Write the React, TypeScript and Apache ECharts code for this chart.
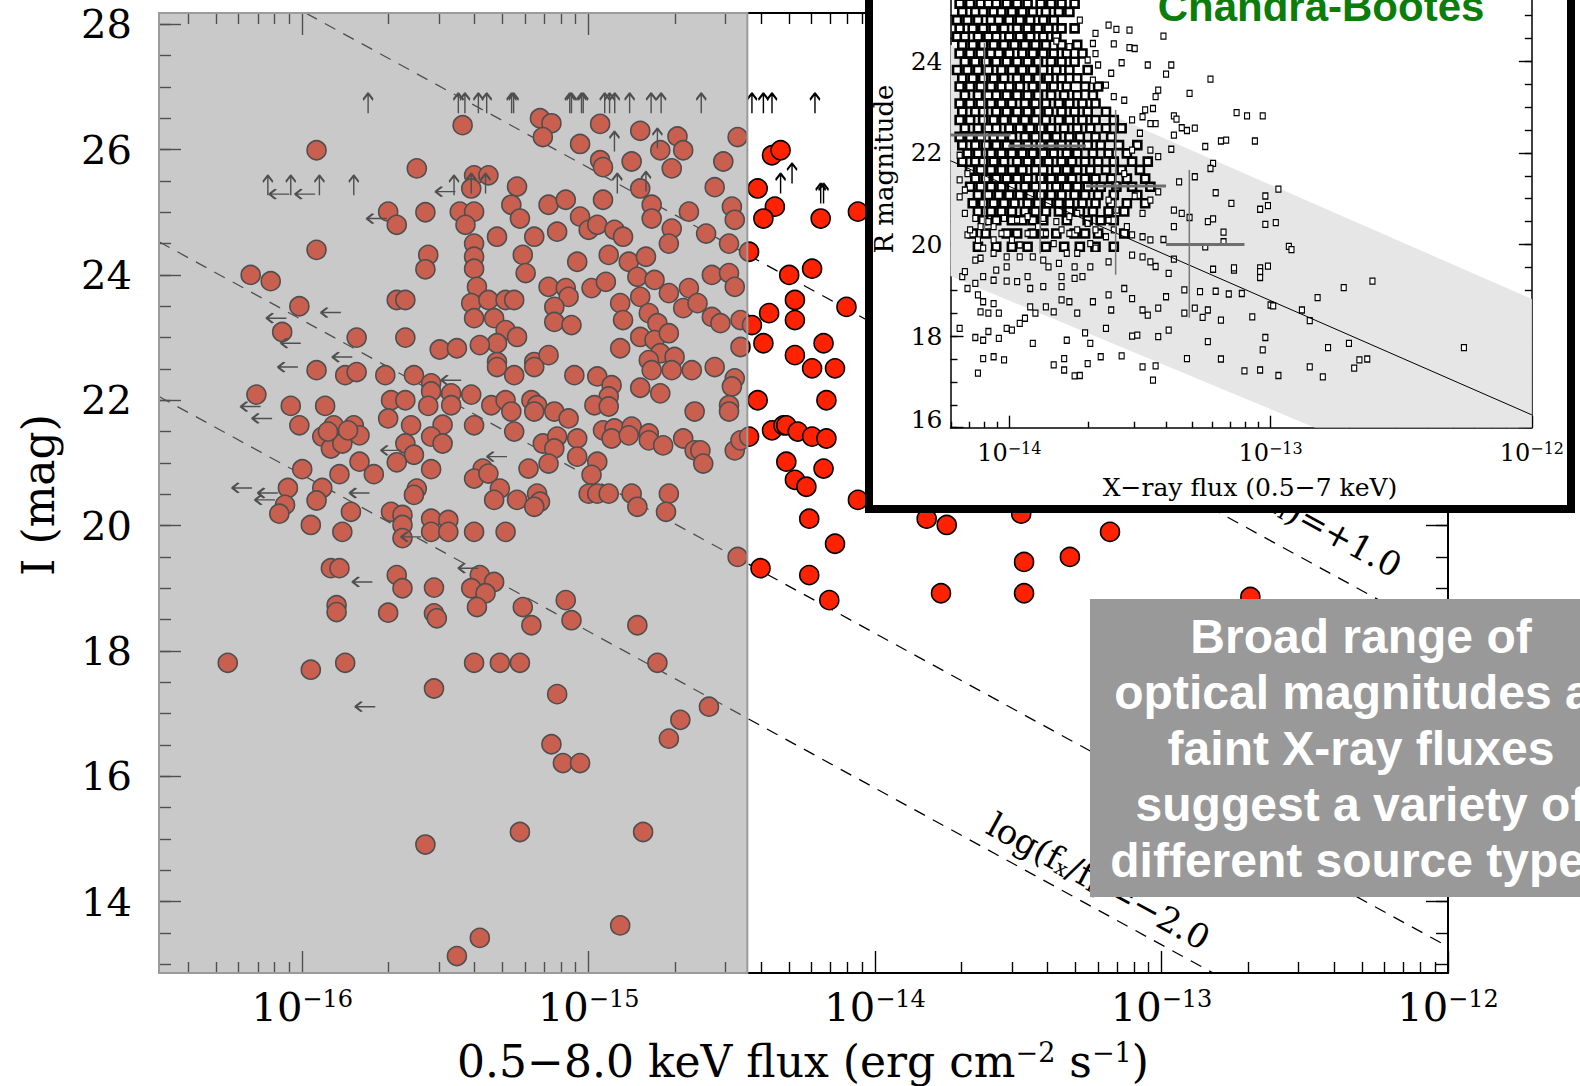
import React, { useEffect, useRef } from "react";
import * as echarts from "echarts";

// ---------------- MAIN PANEL DATA: [log10 flux (erg cm^-2 s^-1), I magnitude] ----------------
const detectedSources: number[][] = [
  [-15.95,25.99],[-15.60,25.70],[-15.70,25.01],[-15.67,24.80],[-15.57,25.00],[-15.95,24.40],[-15.56,24.32],[-15.57,24.09],[-16.18,24.00],[-16.11,23.90],[-16.01,23.50],[-15.67,23.60],[-15.64,23.60],[-16.07,23.09],[-15.81,23.00],[-15.64,23.00],[-15.52,22.81],
  [-15.44,26.39],[-15.17,26.50],[-15.13,26.42],[-15.16,26.20],[-15.03,26.09],[-14.96,26.41],[-14.96,25.83],[-14.95,25.72],[-14.85,25.81],[-14.82,26.30],[-14.75,25.99],[-14.69,26.21],[-14.67,25.99],[-14.71,25.70],[-14.53,25.81],[-14.48,26.20],[-14.56,25.40],[-15.40,25.59],[-15.35,25.59],[-15.41,25.38],[-15.25,25.41],[-15.27,25.12],[-15.24,24.90],[-15.45,25.01],[-15.40,25.01],[-15.43,24.80],[-15.14,25.12],[-15.08,25.20],[-14.95,25.20],[-15.03,24.93],[-15.00,24.72],[-14.97,24.80],[-14.91,24.72],[-14.88,24.61],[-14.82,25.38],[-14.78,25.12],[-14.78,24.90],[-14.71,24.74],[-14.65,25.01],[-14.72,24.50],[-14.59,24.66],[-14.51,24.50],[-14.50,25.09],[-14.49,24.88],[-15.32,24.61],[-15.19,24.61],[-15.11,24.69],[-15.40,24.50],[-15.40,24.29],[-15.40,24.10],[-15.23,24.32],[-15.22,24.03],[-15.04,24.21],[-14.93,24.32],[-14.86,24.21],[-14.80,24.29],[-15.39,23.81],[-15.14,23.81],[-15.08,23.79],[-15.07,23.65],[-14.99,23.79],[-14.94,23.89],[-14.83,23.97],[-14.77,23.92],[-14.72,23.71],[-14.65,23.79],[-14.57,24.00],[-14.51,24.03],[-14.49,23.81],[-15.41,23.55],[-15.35,23.60],[-15.29,23.60],[-15.26,23.60],[-15.40,23.31],[-15.33,23.31],[-15.12,23.49],[-15.12,23.25],[-15.06,23.20],[-14.89,23.55],[-14.88,23.28],[-14.82,23.65],[-14.79,23.39],[-14.76,23.23],[-14.67,23.47],[-14.62,23.55],[-14.57,23.33],[-14.54,23.23],[-14.47,23.28],[-15.29,23.12],[-15.25,23.01],[-15.32,22.91],[-15.38,22.88],[-15.46,22.83],[-15.32,22.61],[-15.19,22.61],[-15.14,22.72],[-14.89,22.83],[-14.82,23.01],[-14.77,22.96],[-14.72,23.07],[-14.75,22.75],[-14.70,22.69],[-14.79,22.64],[-14.47,22.85],
  [-16.16,22.09],[-16.04,21.91],[-15.92,21.91],[-16.01,21.60],[-15.95,22.48],[-15.85,22.40],[-15.81,22.45],[-15.71,22.40],[-15.61,22.40],[-15.55,22.27],[-15.55,22.14],[-15.48,22.11],[-15.48,21.92],[-15.69,22.00],[-15.64,22.00],[-15.56,21.91],[-15.70,21.71],[-15.62,21.60],[-15.51,21.61],[-15.55,21.42],[-15.51,21.31],[-15.89,21.60],[-15.82,21.60],[-15.80,21.44],[-15.93,21.42],[-15.90,21.23],[-15.86,21.31],[-15.84,21.52],[-15.91,21.50],[-15.64,21.31],[-15.61,21.13],[-15.67,21.01],[-15.55,20.90],[-15.80,21.02],[-15.75,20.82],[-15.87,20.82],[-16.00,20.90],[-16.05,20.60],[-15.93,20.60],[-15.95,20.40],[-16.06,20.33],[-16.08,20.19],[-15.83,20.22],[-15.86,19.90],[-15.97,20.01],[-15.60,20.59],[-15.61,20.49],[-15.69,20.22],[-15.65,20.17],[-15.65,20.01],[-15.65,19.80],[-15.55,20.11],[-15.55,19.90],[-15.49,20.09],[-15.49,19.90],[-15.90,19.32],[-15.87,19.32],[-15.67,19.21],[-15.65,19.00],[-15.54,19.01],[-15.88,18.73],[-15.88,18.62],[-15.70,18.61],[-15.54,18.60],[-15.53,18.52],
  [-15.32,22.53],[-15.26,22.40],[-15.19,22.53],[-15.05,22.40],[-14.97,22.38],[-14.92,22.24],[-14.93,22.06],[-14.98,21.92],[-14.93,21.90],[-14.82,22.20],[-14.75,22.11],[-14.78,22.48],[-14.71,22.48],[-14.64,22.48],[-14.56,22.53],[-14.49,22.35],[-14.50,22.22],[-14.51,21.92],[-14.51,21.82],[-14.63,21.82],[-15.41,22.09],[-15.34,21.92],[-15.29,22.00],[-15.27,21.82],[-15.20,22.00],[-15.18,21.92],[-15.19,21.82],[-15.12,21.82],[-15.07,21.71],[-15.40,21.60],[-15.26,21.50],[-15.16,21.31],[-15.11,21.42],[-15.12,21.23],[-15.04,21.39],[-15.04,21.10],[-15.14,20.99],[-15.21,20.91],[-14.97,21.02],[-14.99,20.81],[-14.95,21.52],[-14.91,21.55],[-14.85,21.58],[-14.92,21.39],[-14.86,21.44],[-14.79,21.47],[-14.79,21.36],[-14.74,21.28],[-14.67,21.39],[-14.63,21.20],[-14.61,21.20],[-14.60,20.99],[-14.49,21.20],[-14.47,21.36],[-15.37,20.91],[-15.40,20.75],[-15.35,20.83],[-15.31,20.59],[-15.33,20.41],[-15.25,20.41],[-15.18,20.51],[-15.17,20.38],[-15.19,20.30],[-15.00,20.51],[-14.97,20.51],[-14.93,20.51],[-14.85,20.51],[-14.83,20.30],[-14.72,20.51],[-14.73,20.22],[-15.40,19.90],[-15.29,19.90],[-14.48,19.50],[-15.38,19.21],[-15.33,19.10],[-15.41,19.00],[-15.36,18.92],[-15.39,18.70],[-15.23,18.70],[-15.20,18.41],[-15.08,18.81],[-15.06,18.49],[-14.83,18.41],
  [-16.26,17.81],[-15.97,17.70],[-15.85,17.81],[-15.40,17.81],[-15.31,17.81],[-15.24,17.81],[-15.54,17.40],[-15.11,17.31],[-14.76,17.81],[-14.58,17.11],[-14.68,16.90],[-14.72,16.60],[-15.13,16.51],[-15.09,16.21],[-15.03,16.21],[-15.57,14.91],[-15.24,15.11],[-14.81,15.11],[-14.89,13.62],[-15.38,13.42],[-15.46,13.13],
  [-14.36,25.91],[-14.33,25.99],[-14.41,25.38],[-14.35,25.09],[-14.39,24.90],[-14.19,24.90],[-14.06,25.01],[-14.44,24.37],[-14.22,24.10],[-14.30,24.00],[-14.28,23.60],[-14.28,23.28],[-14.37,23.39],[-14.10,23.49],[-14.43,23.20],[-14.39,22.91],[-14.18,22.91],[-14.28,22.72],[-14.22,22.51],[-14.14,22.51],[-14.41,22.00],[-14.17,22.00],[-14.36,21.52],[-14.32,21.60],[-14.31,21.60],[-14.27,21.50],[-14.22,21.42],[-14.17,21.39],[-14.44,21.42],[-14.31,21.02],[-14.18,20.91],[-14.28,20.73],[-14.24,20.62],[-14.06,20.41],[-14.23,20.11],[-13.82,20.11],[-13.75,20.01],[-13.49,20.19],[-14.14,19.71],[-13.18,19.90],[-14.40,19.32],[-14.23,19.21],[-14.16,18.81],[-13.48,19.42],[-13.32,19.50],[-13.77,18.92],[-13.48,18.92],[-12.69,18.86]
];

// optical limits (upward arrows) and X-ray limits (leftward arrows)
const opticalLimits: number[][] = [
  [-15.77,26.74],[-15.455,26.74],[-15.432,26.74],[-15.385,26.74],[-15.356,26.74],[-15.269,26.74],[-15.262,26.74],[-15.066,26.74],[-15.06,26.74],[-15.025,26.74],[-15.019,26.74],[-14.944,26.74],[-14.927,26.74],[-14.909,26.74],[-14.857,26.74],[-14.782,26.74],[-14.747,26.74],[-14.607,26.74],[-14.43,26.74],[-14.39,26.74],[-14.36,26.74],[-14.21,26.74],
  [-16.12,25.43],[-16.04,25.43],[-15.94,25.43],[-15.82,25.43],[-15.47,25.43],[-15.41,25.46],[-15.36,25.46],[-14.91,26.13],[-14.76,26.18],[-14.90,25.46],[-14.80,25.49],[-14.33,25.46],[-14.29,25.62],[-14.19,25.30],[-14.18,25.30]
];
const xrayLimits: number[][] = [
  [-16.08,25.29],[-15.99,25.29],[-15.74,24.90],[-15.50,25.33],[-15.90,23.40],[-16.09,23.31],[-16.04,22.91],[-15.86,22.69],[-16.05,22.53],[-16.18,21.90],[-16.14,21.71],[-16.21,20.60],[-16.12,20.52],[-16.13,20.41],[-15.80,20.52],[-15.79,19.10],[-15.69,21.20],[-15.62,19.82],[-15.48,22.32],[-15.32,21.10],[-15.42,19.32],[-15.78,17.11]
];

// constant X-ray-to-optical flux ratio lines (end points)
const ratioLinePlus1 = [[-16.5, 29.46], [-12.0, 18.21]];
const ratioLineMinus1 = [[-16.5, 24.53], [-12.0, 13.28]];
const ratioLineMinus2 = [[-16.5, 22.06], [-12.0, 10.81]];

// shaded region: [xmin, ymin, xmax, ymax]
const shadeBox = [-16.5, 12.86, -14.446, 28.18];

const xMajorTicks = [-16, -15, -14, -13, -12];
const yMajorTicks = [14, 16, 18, 20, 22, 24, 26, 28];

const boxLines = [
  "Broad range of",
  "optical magnitudes at",
  "faint X-ray fluxes",
  "suggest a variety of",
  "different source types",
];

// ---------------- INSET DATA (Chandra-Bootes): [log10 flux, R magnitude] ----------------
const insetSparse: number[][] = [
  [-12.26,17.75],[-12.61,19.20],[-12.72,19.06],[-12.82,18.84],[-12.88,18.57],[-12.85,18.34],[-12.70,17.84],[-12.78,17.75],[-12.63,17.50],[-12.66,17.48],[-12.68,17.30],[-12.80,17.11],[-12.85,17.33],[-12.97,17.14],[-13.04,17.26],[-13.10,17.24],[-13.19,17.50],[-13.32,17.51],[-13.45,17.04],[-13.44,17.35],[-13.49,17.33],[-13.65,17.55],[-13.57,17.57],[-13.70,17.40],[-13.69,17.84],[-13.75,17.13],[-13.73,17.14],[-13.79,17.26],[-13.83,17.37],[-13.78,17.91],[-13.71,18.07],[-13.79,17.51],[-13.91,17.84],[-14.02,17.48],[-14.06,17.55],[-14.10,17.51],[-14.12,17.19],[-14.13,17.97],[-14.10,17.91],[-14.08,18.10],[-14.04,17.95],[-14.01,18.17],[-13.99,18.13],[-14.19,18.17],[-14.11,18.53],[-14.08,18.50],[-14.04,18.50],[-14.10,18.75],[-14.12,18.90],[-14.06,18.71],[-13.96,18.28],[-13.94,18.39],[-13.92,18.64],[-13.90,18.50],[-13.86,18.64],[-13.83,18.53],[-13.80,18.79],[-13.77,18.75],[-13.74,18.50],[-13.68,18.75],[-13.63,18.17],[-13.61,18.57],[-13.62,18.90],[-13.56,19.04],[-13.53,18.00],[-13.51,18.02],[-13.53,18.82],[-13.49,18.57],[-13.47,18.46],[-13.43,18.61],[-13.43,17.99],[-13.40,18.86],[-13.39,18.13],[-13.33,19.01],[-13.33,18.50],[-13.29,18.61],[-13.26,18.41],[-13.24,18.57],[-13.27,18.97],[-13.19,18.35],[-13.21,18.98],[-13.16,18.92],[-13.11,18.93],[-13.07,18.42],[-13.02,17.97],[-13.03,17.70],[-13.00,18.68],[-12.99,18.66],[-13.24,17.88],
  [-12.93,19.96],[-12.92,19.89],[-12.97,21.21],[-13.02,21.06],[-13.01,20.85],[-13.04,20.77],[-13.02,20.44],[-12.98,20.48],[-13.04,19.49],[-13.01,19.53],[-13.04,19.41],[-13.04,19.28],[-13.09,22.81],[-13.13,22.88],[-13.03,22.81],[-13.06,22.26],[-13.17,22.28],[-13.19,22.26],[-13.22,21.77],[-13.23,21.66],[-13.25,22.14],[-13.21,21.13],[-13.15,20.90],[-13.24,20.50],[-13.22,20.56],[-13.18,20.27],[-13.18,20.06],[-13.25,19.95],[-13.22,19.46],[-13.14,19.44],[-13.14,19.49],[-13.29,22.54],[-13.32,22.49],[-13.34,22.55],[-13.23,23.61],[-13.31,23.30],[-13.38,23.92],[-13.43,23.37],[-13.44,23.23],[-13.47,23.92],[-13.40,23.72],[-13.41,24.55],[-13.54,24.30],[-13.52,24.28],[-13.60,24.38],[-13.57,23.97],[-13.59,24.70],[-13.54,24.68],[-13.62,24.79],[-13.37,22.81],[-13.36,22.74],[-13.44,22.64],[-13.37,22.39],[-13.38,22.08],[-13.43,21.92],[-13.46,22.06],[-13.35,21.37],[-13.29,21.48],[-13.37,20.75],[-13.34,20.68],[-13.31,20.59],[-13.37,20.39],[-13.41,20.11],[-13.37,19.68],[-13.39,19.37],[-13.44,19.52],[-13.46,19.62],[-13.49,19.73],[-13.53,19.77],[-13.55,20.39],[-13.49,20.68],[-13.52,21.06],[-13.46,20.97],[-13.43,21.15],[-13.56,21.55],[-13.53,22.06],[-13.50,22.43],[-13.48,22.94],[-13.45,22.97],[-13.53,22.72],[-13.49,22.79],[-13.46,22.64],[-13.56,23.15],[-13.60,23.23],[-13.63,23.48],[-13.61,23.74],[-13.68,23.59],[-13.67,24.17],[-13.70,24.03],[-13.66,23.92],[-13.73,24.90],[-13.68,24.39],[-13.67,24.61],[-13.82,24.44],[-13.77,24.32],[-13.59,21.30],[-13.62,20.97],[-13.59,20.75],[-13.63,20.17],[-13.60,20.32],[-13.67,19.92],[-13.69,20.02],[-13.62,19.62],[-13.69,19.51],[-13.72,19.30],[-13.75,19.26],[-13.80,19.08],[-13.87,19.08],[-13.92,19.04],[-13.97,19.19],[-14.01,19.20],[-14.06,19.22],[-14.10,19.30],[-14.13,19.15],[-14.16,19.04],[-14.18,19.30],[-14.17,19.41],[-14.05,19.44],[-14.01,19.51],[-13.93,19.30],[-13.80,19.30],[-13.85,19.51],[-13.81,19.59],[-13.75,19.51],[-13.78,19.81],[-13.74,19.81],[-13.87,19.66],[-13.91,19.73],[-13.96,19.73],[-14.01,19.73],[-14.06,19.81],[-14.11,19.70],[-14.13,19.66],[-14.10,19.92],[-14.06,20.10],[-14.12,20.10],[-14.16,20.21],[-14.15,20.32],[-14.11,20.39],[-14.06,20.39],[-14.03,20.24],[-13.99,20.10],[-13.96,19.99],[-13.93,20.24],[-13.89,20.39],[-13.86,20.24],[-13.83,20.02],[-13.80,20.32],[-13.77,20.24],[-13.74,20.32],[-13.70,20.46],[-13.67,20.32],[-13.62,20.53],[-13.53,20.21],[-13.49,20.17],[-13.46,20.10],[-13.74,20.68],[-13.77,20.61],[-13.82,20.50],[-13.87,20.57],[-13.93,20.61],[-13.97,20.53],[-14.02,20.57],[-14.08,20.50],[-14.13,20.57],[-14.17,20.68],[-14.19,21.04],[-14.17,21.19],[-14.19,21.41],[-14.16,21.55],[-14.19,21.95]
];
// dense part of the inset, read row by row: magnitude of each row and the fluxes along it
const insetRowMags = [25.26,25.08,24.90,24.72,24.54,24.36,24.17,23.99,23.81,23.63,23.45,23.26,23.08,22.90,22.72,22.54,22.35,22.17,21.99,21.81,21.63,21.44,21.26,21.08,20.90,20.72,20.53,20.24,19.95];
const insetRowFluxes: number[][] = [
  [-14.19,-14.15,-14.11,-14.08,-14.05,-14.01,-13.97,-13.93,-13.88,-13.84,-13.80,-13.75],
  [-14.18,-14.13,-14.10,-14.06,-14.03,-13.99,-13.95,-13.91,-13.86,-13.81,-13.77],
  [-14.20,-14.16,-14.12,-14.07,-14.04,-14.00,-13.96,-13.92,-13.87,-13.83],
  [-14.19,-14.14,-14.10,-14.06,-14.02,-13.97,-13.93,-13.89,-13.85,-13.80,-13.75],
  [-14.20,-14.17,-14.12,-14.08,-14.05,-14.00,-13.96,-13.92,-13.87,-13.82],
  [-14.18,-14.14,-14.10,-14.06,-14.02,-13.98,-13.94,-13.90,-13.86,-13.80,-13.74],
  [-14.19,-14.15,-14.11,-14.07,-14.04,-14.00,-13.95,-13.91,-13.87,-13.83,-13.78,-13.72],
  [-14.17,-14.13,-14.09,-14.05,-14.01,-13.97,-13.93,-13.89,-13.84,-13.80,-13.75],
  [-14.20,-14.16,-14.12,-14.08,-14.03,-13.99,-13.95,-13.91,-13.87,-13.82,-13.77,-13.70],
  [-14.18,-14.14,-14.10,-14.06,-14.02,-13.97,-13.93,-13.89,-13.85,-13.80,-13.74],
  [-14.19,-14.15,-14.11,-14.07,-14.03,-14.00,-13.96,-13.91,-13.87,-13.83,-13.78,-13.71,-13.66],
  [-14.17,-14.12,-14.08,-14.05,-14.01,-13.97,-13.93,-13.89,-13.84,-13.79,-13.74,-13.68],
  [-14.19,-14.15,-14.11,-14.07,-14.03,-13.99,-13.94,-13.90,-13.86,-13.81,-13.77,-13.72,-13.67],
  [-14.18,-14.13,-14.10,-14.05,-14.01,-13.97,-13.93,-13.89,-13.85,-13.80,-13.75,-13.70,-13.63],
  [-14.19,-14.15,-14.10,-14.06,-14.02,-13.98,-13.94,-13.90,-13.86,-13.81,-13.77,-13.72,-13.67,-13.60],
  [-14.17,-14.12,-14.08,-14.05,-14.00,-13.96,-13.92,-13.88,-13.84,-13.79,-13.74,-13.69,-13.63,-13.57],
  [-14.19,-14.15,-14.11,-14.06,-14.03,-13.99,-13.94,-13.90,-13.86,-13.82,-13.77,-13.73,-13.67,-13.61],
  [-14.18,-14.13,-14.09,-14.05,-14.01,-13.97,-13.93,-13.88,-13.84,-13.80,-13.75,-13.70,-13.65,-13.58,-13.51],
  [-14.16,-14.12,-14.07,-14.03,-13.99,-13.95,-13.91,-13.87,-13.83,-13.78,-13.74,-13.68,-13.62,-13.55],
  [-14.18,-14.13,-14.10,-14.06,-14.02,-13.97,-13.93,-13.89,-13.85,-13.80,-13.76,-13.71,-13.66,-13.60,-13.53,-13.47],
  [-14.15,-14.11,-14.07,-14.03,-13.99,-13.95,-13.90,-13.87,-13.82,-13.78,-13.74,-13.69,-13.63,-13.57,-13.50],
  [-14.13,-14.09,-14.05,-14.01,-13.97,-13.93,-13.88,-13.84,-13.80,-13.76,-13.71,-13.67,-13.61,-13.55,-13.48],
  [-14.15,-14.11,-14.07,-14.03,-13.99,-13.94,-13.90,-13.87,-13.82,-13.78,-13.74,-13.70,-13.65,-13.59,-13.53,-13.46],
  [-14.12,-14.08,-14.04,-14.00,-13.96,-13.92,-13.88,-13.84,-13.80,-13.75,-13.71,-13.66,-13.60,-13.51],
  [-14.14,-14.10,-14.06,-14.02,-13.98,-13.93,-13.89,-13.85,-13.81,-13.77,-13.72,-13.67,-13.61,-13.55,-13.48],
  [-14.12,-14.07,-14.03,-13.99,-13.94,-13.90,-13.86,-13.81,-13.77,-13.73,-13.68,-13.62,-13.56],
  [-14.10,-14.05,-13.99,-13.95,-13.91,-13.87,-13.78,-13.70,-13.65,-13.60],
  [-14.14,-14.09,-14.01,-13.97,-13.91,-13.87,-13.82,-13.75,-13.71,-13.66,-13.56],
  [-14.12,-14.05,-13.99,-13.93,-13.86,-13.79,-13.73,-13.67,-13.60]
];
// binned means: horizontal bars [x1, x2, mag] and vertical bars [x, mag1, mag2]
const insetBinX = [[-14.225,-13.995,22.39],[-14.004,-13.706,22.15],[-13.706,-13.40,21.28],[-13.40,-13.10,20.00]];
const insetBinY = [[-14.095,24.40,20.31],[-13.882,24.10,19.80],[-13.593,22.94,19.34],[-13.311,21.63,18.40]];
const insetBand = [[-14.225,24.36],[-12.0,18.81],[-12.0,16.0],[-12.83,16.0],[-14.225,19.31]];
const insetRelation = [[-14.225,21.83],[-12.0,16.28]];
const insetXMajor = [-14, -13, -12];
const insetYMajor = [16, 18, 20, 22, 24];

// ---------------- helpers ----------------
const SERIF = "DejaVu Serif";
const SANS = "Liberation Sans";
const X_MIN = -16.5, X_MAX = -12, Y_MIN = 12.86, Y_MAX = 28.18;
const IX_MIN = -14.225, IX_MAX = -12, IY_MIN = 16, IY_MAX = 25.82;

function logMinor(min: number, max: number) {
  const out: number[] = [];
  for (let n = -18; n <= -11; n++) {
    for (let k = 2; k <= 9; k++) {
      const v = n + Math.log10(k);
      if (v > min && v < max) out.push(v);
    }
  }
  return out;
}
function steps(a: number, b: number, s: number) {
  const out: number[] = [];
  for (let v = a; v <= b + 1e-9; v += s) out.push(Math.round(v * 100) / 100);
  return out;
}

function axis(min: number, max: number, position: string, ticks: number[], len: number, showLine: boolean, lineW: number, label?: any) {
  return {
    type: "value",
    min, max, position,
    splitLine: { show: false },
    axisLine: { show: showLine, onZero: false, lineStyle: { color: "#000", width: lineW } },
    axisTick: { show: true, inside: true, length: len, customValues: ticks, lineStyle: { color: "#000", width: 1.4 } },
    axisLabel: label ? label : { show: false },
    z: 1,
  };
}

const upArrow = "path://M5,0 L0.5,6.5 M5,0 L9.5,6.5 M5,0 L5,20";
const leftArrow = "path://M0,5 L6.5,0.5 M0,5 L6.5,9.5 M0,5 L20,5";

function ratioLabel(text: string) {
  return {
    text: `{a|log(f}{b|x}{a|/f}{b|I}{a|)=${text}}`,
    rich: {
      a: { fontFamily: SERIF, fontSize: 34, fill: "#000" },
      b: { fontFamily: SERIF, fontSize: 21, fill: "#000", verticalAlign: "bottom" },
    },
  };
}

function mainOption(): any {
  const xMinor = logMinor(X_MIN, X_MAX);
  const yMinor = steps(13, 28, 0.5);
  const xLabel = {
    show: true, customValues: xMajorTicks, margin: 14,
    formatter: (v: number) => `{b|10}{s|−${Math.round(-v)}}`,
    rich: {
      b: { fontFamily: SERIF, fontSize: 40, color: "#000" },
      s: { fontFamily: SERIF, fontSize: 24, color: "#000", verticalAlign: "top" },
    },
  };
  const yLabel = { show: true, customValues: yMajorTicks, margin: 27, fontFamily: SERIF, fontSize: 40, color: "#000" };
  const dashed = (data: number[][]) => ({
    type: "line", data, symbol: "none", z: 4, silent: true,
    lineStyle: { color: "#000", width: 1.3, type: [12, 9] },
  });
  return {
    animation: false,
    backgroundColor: "#fff",
    grid: { left: 159, top: 13, width: 1289, height: 960 },
    xAxis: [
      axis(X_MIN, X_MAX, "bottom", xMajorTicks, 22, true, 2, xLabel),
      axis(X_MIN, X_MAX, "bottom", xMinor, 11, false, 2),
      axis(X_MIN, X_MAX, "top", xMajorTicks, 22, true, 2),
      axis(X_MIN, X_MAX, "top", xMinor, 11, false, 2),
    ],
    yAxis: [
      axis(Y_MIN, Y_MAX, "left", yMajorTicks, 22, true, 2, yLabel),
      axis(Y_MIN, Y_MAX, "left", yMinor, 12, false, 2),
      axis(Y_MIN, Y_MAX, "right", yMajorTicks, 22, true, 2),
      axis(Y_MIN, Y_MAX, "right", yMinor, 12, false, 2),
    ],
    series: [
      dashed(ratioLinePlus1),
      dashed(ratioLineMinus1),
      dashed(ratioLineMinus2),
      {
        type: "scatter", data: detectedSources, symbol: "circle", symbolSize: 19, z: 5, silent: true,
        itemStyle: { color: "#ff2200", borderColor: "#000", borderWidth: 1.6, opacity: 1 },
      },
      {
        type: "scatter", data: opticalLimits, symbol: upArrow, symbolSize: [10, 20], z: 5, silent: true,
        itemStyle: { color: "rgba(0,0,0,0)", borderColor: "#000", borderWidth: 2, opacity: 1 },
      },
      {
        type: "scatter", data: xrayLimits, symbol: leftArrow, symbolSize: [20, 10], z: 5, silent: true,
        itemStyle: { color: "rgba(0,0,0,0)", borderColor: "#000", borderWidth: 2, opacity: 1 },
      },
      {
        type: "custom", z: 10, silent: true, clip: false,
        data: [shadeBox],
        encode: { x: [0, 2], y: [1, 3] },
        renderItem: (_p: any, api: any) => {
          const p1 = api.coord([api.value(0), api.value(3)]);
          const p2 = api.coord([api.value(2), api.value(1)]);
          return {
            type: "rect",
            shape: { x: p1[0], y: p1[1], width: p2[0] - p1[0], height: p2[1] - p1[1] },
            style: { fill: "rgba(152,152,152,0.52)", stroke: "#9b9b9b", lineWidth: 2 },
          };
        },
      },
    ],
    graphic: [
      {
        type: "text", x: 38, y: 495, rotation: Math.PI / 2, z: 50,
        style: { text: "I (mag)", font: `44px '${SERIF}'`, fill: "#000", align: "center", verticalAlign: "middle" },
      },
      {
        type: "text", x: 803, y: 1061, z: 50,
        style: {
          text: "{a|0.5−8.0 keV flux (erg cm}{s|−2}{a| s}{s|−1}{a|)}",
          align: "center", verticalAlign: "middle",
          rich: {
            a: { fontFamily: SERIF, fontSize: 44, fill: "#000" },
            s: { fontFamily: SERIF, fontSize: 27, fill: "#000", verticalAlign: "top" },
          },
        },
      },
      {
        type: "text", x: 1399, y: 568, rotation: -0.5, z: 50,
        style: { ...ratioLabel("+1.0"), align: "right", verticalAlign: "middle" },
      },
      {
        type: "text", x: 990, y: 822, rotation: -0.5, z: 50,
        style: { ...ratioLabel("−2.0"), align: "left", verticalAlign: "middle" },
      },
      { type: "rect", z: 100, shape: { x: 1090, y: 599, width: 620, height: 298 }, style: { fill: "#999999" } },
      ...boxLines.map((t, i) => ({
        type: "text", z: 101, x: 1361, y: 636 + i * 56,
        style: { text: t, fill: "#fff", font: `bold 48px '${SANS}'`, align: "center", verticalAlign: "middle" },
      })),
    ],
  };
}

function insetOption(): any {
  const xMinor = logMinor(IX_MIN, IX_MAX);
  const yMinor = steps(16, 25.5, 0.5);
  const xLabel = {
    show: true, customValues: insetXMajor, margin: 13,
    formatter: (v: number) => `{b|10}{s|−${Math.round(-v)}}`,
    rich: {
      b: { fontFamily: SERIF, fontSize: 24, color: "#000" },
      s: { fontFamily: SERIF, fontSize: 16, color: "#000", verticalAlign: "top" },
    },
  };
  const yLabel = {
    show: true, customValues: insetYMajor, margin: 8, fontFamily: SERIF, fontSize: 25, color: "#000",
    formatter: (v: number) => (v === 16 ? `{l|${v}}` : `${v}`),
    rich: { l: { fontFamily: SERIF, fontSize: 25, color: "#000", padding: [0, 0, 16, 0] } },
  };
  const dense: number[][] = [];
  insetRowMags.forEach((m, i) => insetRowFluxes[i].forEach((f) => dense.push([f, m])));
  const segs: any[] = [];
  insetBinX.forEach((b) => segs.push({
    type: "line", data: [[b[0], b[2]], [b[1], b[2]]], symbol: "none", z: 8, silent: true,
    lineStyle: { color: "#6e6e6e", width: 3 },
  }));
  insetBinY.forEach((b) => segs.push({
    type: "line", data: [[b[0], b[1]], [b[0], b[2]]], symbol: "none", z: 8, silent: true,
    lineStyle: { color: "#777", width: 1.5 },
  }));
  return {
    animation: false,
    backgroundColor: "#fff",
    grid: { left: 77.5, top: 0, width: 590, height: 449.7 },
    xAxis: [
      axis(IX_MIN, IX_MAX, "bottom", insetXMajor, 12, true, 1.5, xLabel),
      axis(IX_MIN, IX_MAX, "bottom", xMinor, 6, false, 1.5),
    ],
    yAxis: [
      axis(IY_MIN, IY_MAX, "left", insetYMajor, 13, true, 1.5, yLabel),
      axis(IY_MIN, IY_MAX, "left", yMinor, 7, false, 1.5),
      axis(IY_MIN, IY_MAX, "right", insetYMajor, 13, true, 1.5),
      axis(IY_MIN, IY_MAX, "right", yMinor, 7, false, 1.5),
    ],
    series: [
      {
        type: "custom", z: 5, silent: true, clip: true, data: [[IX_MIN, IY_MIN]],
        renderItem: (_p: any, api: any) => ({
          type: "polygon",
          shape: { points: insetBand.map((v) => api.coord(v)) },
          style: { fill: "#e6e6e6" },
        }),
      },
      {
        type: "scatter", data: dense, symbol: "rect", symbolSize: [8, 8], z: 6, silent: true,
        itemStyle: { color: "#fff", borderColor: "#000", borderWidth: 2.6, opacity: 1 },
      },
      {
        type: "scatter", data: insetSparse, symbol: "rect", symbolSize: [5, 6], z: 6, silent: true,
        itemStyle: { color: "#fff", borderColor: "#000", borderWidth: 1.2, opacity: 1 },
      },
      {
        type: "line", data: insetRelation, symbol: "none", z: 7, silent: true,
        lineStyle: { color: "#000", width: 1 },
      },
      ...segs,
    ],
    graphic: [
      {
        type: "text", x: 448, y: 28, z: 50,
        style: { text: "Chandra-Bootes", fill: "#0a7d0a", font: `bold 42px '${SANS}'`, align: "center", verticalAlign: "middle" },
      },
      {
        type: "text", x: 11, y: 191, rotation: Math.PI / 2, z: 50,
        style: { text: "R magnitude", fill: "#000", font: `26px '${SERIF}'`, align: "center", verticalAlign: "middle" },
      },
      {
        type: "text", x: 377, y: 509, z: 50,
        style: { text: "X−ray flux (0.5−7 keV)", fill: "#000", font: `25px '${SERIF}'`, align: "center", verticalAlign: "middle" },
      },
    ],
  };
}

export default function App() {
  const mainRef = useRef<HTMLDivElement>(null);
  const insetRef = useRef<HTMLDivElement>(null);
  useEffect(() => {
    const main = echarts.init(mainRef.current as HTMLDivElement, null, { renderer: "svg" });
    main.setOption(mainOption());
    const inset = echarts.init(insetRef.current as HTMLDivElement, null, { renderer: "svg" });
    inset.setOption(insetOption());
    return () => {
      main.dispose();
      inset.dispose();
    };
  }, []);
  return (
    <div style={{ position: "fixed", left: 0, top: 0, width: 1580, height: 1086, overflow: "hidden", background: "#fff" }}>
      <div ref={mainRef} style={{ position: "absolute", left: 0, top: 0, width: 1580, height: 1086 }} />
      <div
        style={{
          position: "absolute", left: 865, top: -30, width: 710, height: 543,
          border: "8px solid #000", boxSizing: "border-box", background: "#fff", overflow: "hidden",
        }}
      >
        <div ref={insetRef} style={{ position: "absolute", left: 0, top: 0, width: 694, height: 527 }} />
      </div>
    </div>
  );
}
